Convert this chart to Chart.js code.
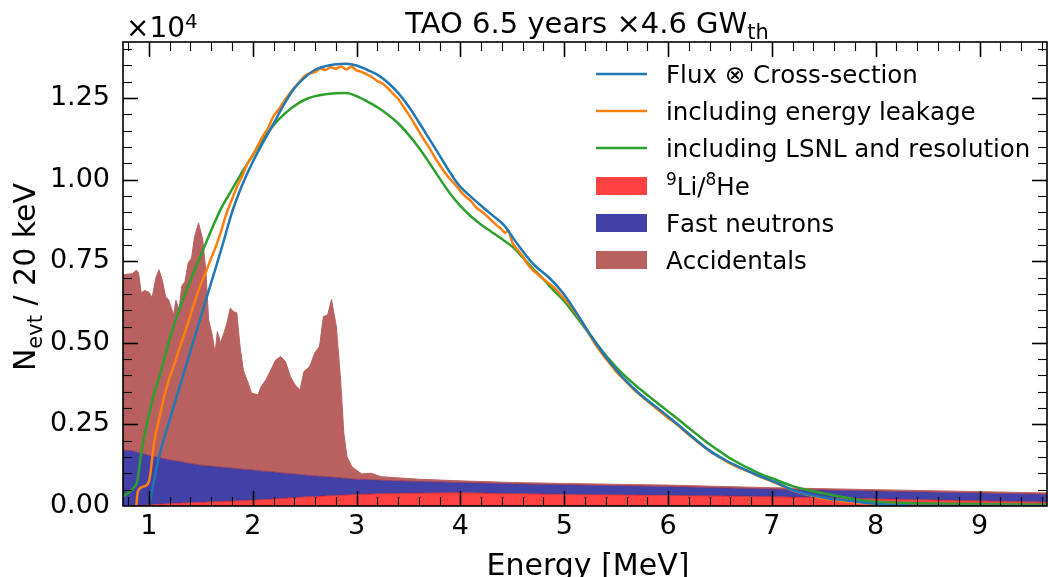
<!DOCTYPE html>
<html>
<head>
<meta charset="utf-8">
<script src="https://cdn.jsdelivr.net/npm/chart.js@4.4.1/dist/chart.umd.min.js"></script>
<style>
  html, body { margin: 0; padding: 0; background: #fff; }
  #wrap { width: 1048px; height: 577px; }
</style>
</head>
<body>
<div id="wrap"><canvas id="spectrum" width="1048" height="577"></canvas></div>
<script>
// TAO prompt spectrum, events per 20 keV bin

// Flux x cross-section
const fluxE = [1.00, 1.05, 1.10, 1.20, 1.30, 1.40, 1.50, 1.60, 1.70, 1.80, 1.90, 2.00, 2.10, 2.20, 2.30, 2.40,
  2.50, 2.60, 2.70, 2.80, 2.90, 3.00, 3.10, 3.20, 3.30, 3.40, 3.50, 3.60, 3.70, 3.80, 3.90, 3.95, 4.00, 4.10,
  4.20, 4.30, 4.43, 4.53, 4.70, 4.86, 4.99, 5.10, 5.25, 5.41, 5.57, 5.74, 5.90, 6.06, 6.23, 6.39, 6.55, 6.71,
  6.88, 7.04, 7.20, 7.37, 7.53, 7.69, 7.85, 8.00, 8.20, 8.40, 9.65];
const fluxN = [0, 800, 1550, 2650, 3700, 4750, 5800, 6850, 7900, 9000, 9850, 10550, 11150, 11720, 12300, 12800,
  13130, 13370, 13480, 13540, 13550, 13500, 13370, 13220, 12980, 12660, 12250, 11760, 11250, 10740, 10220, 9980, 9780, 9480,
  9200, 8930, 8570, 8110, 7420, 6980, 6520, 6010, 5250, 4530, 3920, 3400, 3000, 2590, 2130, 1720, 1410, 1160,
  920, 720, 490, 340, 240, 180, 120, 70, 30, 10, 0];

// including energy leakage
const leakE = [0.878, 0.893, 0.95, 1.00,
  1.05, 1.10, 1.15, 1.20, 1.25, 1.30, 1.35, 1.40, 1.45, 1.50, 1.55, 1.60, 1.65, 1.70, 1.75, 1.80, 1.85, 1.90, 1.95, 2.00,
  2.05, 2.10, 2.15, 2.20, 2.25, 2.30, 2.35, 2.40, 2.45, 2.50, 2.55, 2.60, 2.65, 2.70, 2.75, 2.80, 2.85, 2.90, 2.95, 3.00,
  3.05, 3.10, 3.15, 3.20, 3.25, 3.30, 3.35, 3.40, 3.45, 3.50, 3.55, 3.60, 3.65, 3.70, 3.75, 3.80, 3.85, 3.90, 3.95, 4.00,
  4.05, 4.10, 4.15, 4.20, 4.25, 4.30, 4.35, 4.40, 4.43, 4.46, 4.50, 4.55, 4.60, 4.65, 4.70,
  4.80, 4.90, 5.00, 5.10, 5.20, 5.30, 5.40, 5.50, 5.60, 5.70, 5.80, 5.90, 6.00, 6.10, 6.20, 6.30, 6.40, 6.50,
  6.60, 6.70, 6.80, 6.90, 7.00, 7.10, 7.20, 7.30, 7.40, 7.50, 7.60, 7.70, 7.80, 7.90, 8.00, 8.20, 8.40, 9.65];
const leakN = [0, 440, 600, 750,
  1950, 2700, 3400, 3950, 4400, 4900, 5350, 5850, 6350, 6800, 7180, 7600, 8000, 8480, 9000, 9400, 9800, 10120, 10500, 10750,
  11050, 11350, 11600, 11950, 12150, 12400, 12620, 12820, 13000, 13180, 13260, 13300, 13410, 13360, 13450, 13400, 13470, 13380, 13460, 13350,
  13300, 13220, 13140, 13020, 12950, 12810, 12640, 12480, 12240, 12010, 11750, 11480, 11220, 10980, 10700, 10450, 10220, 10020, 9850, 9650,
  9480, 9350, 9150, 9030, 8900, 8750, 8600, 8470, 8370, 8440, 8080, 7850, 7650, 7400, 7220,
  6950, 6700, 6350, 5970, 5480, 4950, 4520, 4120, 3800, 3480, 3220, 2960, 2700, 2460, 2180, 1920, 1680, 1480,
  1300, 1150, 1020, 880, 750, 620, 480, 380, 300, 230, 180, 140, 110, 80, 60, 30, 10, 0];

// including LSNL and resolution
const lsnlE = [0.75, 0.85, 0.89, 0.92, 0.95, 1.00, 1.05, 1.10,
  1.20, 1.30, 1.40, 1.50, 1.60, 1.70, 1.80, 1.90, 2.00, 2.10, 2.20, 2.30, 2.40, 2.50, 2.60, 2.70, 2.80, 2.90, 3.00, 3.10,
  3.20, 3.30, 3.40, 3.50, 3.60, 3.70, 3.80, 3.90, 4.00, 4.10, 4.20, 4.30, 4.40, 4.50, 4.60, 4.70, 4.80, 4.90, 5.00, 5.10,
  5.20, 5.30, 5.40, 5.50, 5.60, 5.70, 5.80, 5.90, 6.00, 6.10, 6.20, 6.30, 6.40, 6.50, 6.60, 6.70, 6.80, 6.90, 7.00,
  7.20, 7.40, 7.60, 7.80, 8.00, 8.50, 9.00, 9.65];
const lsnlN = [290, 550, 800, 1500, 2050, 2800, 3460, 3950,
  5120, 6100, 6920, 7680, 8450, 9150, 9700, 10250, 10750, 11250, 11670, 12000, 12260, 12450, 12560, 12620, 12650, 12660, 12560, 12400,
  12220, 12000, 11730, 11380, 10980, 10520, 10040, 9580, 9200, 8880, 8620, 8400, 8180, 7950, 7620, 7270, 6950, 6600, 6280, 5870,
  5450, 5030, 4620, 4260, 3940, 3660, 3400, 3150, 2900, 2650, 2390, 2140, 1890, 1670, 1460, 1280, 1120, 970, 850,
  610, 450, 320, 210, 130, 80, 60, 40];

// backgrounds (stacked), common energy grid
const bkgE = [0.75, 0.84, 0.878, 0.90, 0.925, 0.96, 1.00, 1.03, 1.066, 1.097,
  1.13, 1.16, 1.19, 1.237, 1.26, 1.29, 1.315, 1.347, 1.378, 1.41,
  1.44, 1.478, 1.518, 1.549, 1.575, 1.612, 1.637, 1.659, 1.69, 1.722,
  1.75, 1.784, 1.815, 1.846, 1.877, 1.909, 1.956, 1.987, 2.05, 2.08,
  2.127, 2.174, 2.221, 2.268, 2.315, 2.362, 2.408, 2.455, 2.493, 2.549,
  2.596, 2.643, 2.68, 2.721, 2.758, 2.805, 2.846, 2.877, 2.908, 2.955,
  3.05, 3.14, 3.236, 3.36, 3.6, 4.0, 4.5, 5.0, 6.0, 7.0,
  8.0, 9.0, 9.65];
const li9He8 = [0, 10, 15, 20, 25, 30, 40, 45, 55, 60,
  65, 70, 80, 85, 90, 90, 95, 100, 105, 110,
  110, 115, 120, 125, 130, 135, 135, 140, 145, 145,
  150, 155, 160, 160, 165, 170, 175, 180, 190, 195,
  205, 215, 225, 235, 245, 250, 260, 270, 280, 290,
  295, 305, 310, 315, 320, 330, 335, 340, 345, 355,
  365, 370, 380, 390, 400, 410, 380, 360, 330, 290,
  220, 160, 120];
const fastN = [1720, 1680, 1640, 1615, 1590, 1555, 1510, 1485, 1450, 1420,
  1395, 1370, 1335, 1310, 1295, 1280, 1260, 1230, 1210, 1190,
  1170, 1145, 1125, 1110, 1100, 1080, 1075, 1060, 1050, 1040,
  1025, 1010, 995, 985, 970, 955, 940, 925, 895, 880,
  855, 835, 810, 785, 760, 740, 720, 695, 670, 645,
  630, 610, 595, 580, 565, 540, 525, 510, 500, 475,
  450, 435, 410, 385, 350, 310, 300, 290, 270, 230,
  240, 240, 240];
const accid = [5370, 5430, 5570, 5520, 4920, 5020, 5000, 4850, 5480, 5760,
  5440, 4980, 4900, 4460, 4920, 4630, 5380, 5550, 6130, 6300,
  6980, 7410, 6920, 5920, 4480, 3980, 3470, 4150, 3800, 4120,
  4420, 4900, 4800, 4780, 3760, 3040, 2650, 2360, 2320, 2580,
  2810, 3120, 3440, 3560, 3420, 2980, 2730, 2600, 3170, 3340,
  3760, 3980, 4900, 4960, 5440, 4630, 3010, 1380, 660, 370,
  165, 200, 110, 95, 70, 50, 40, 40, 40, 40,
  40, 40, 40];

const yTicks = [0, 2500, 5000, 7500, 10000, 12500];

const pts = (xs, ys) => xs.map((x, i) => ({ x: x, y: ys[i] }));

const font = "'DejaVu Sans', sans-serif";

const line = (label, xs, ys, color, stack) => ({
  label: label,
  data: pts(xs, ys),
  borderColor: color,
  backgroundColor: color,
  borderWidth: 2.5,
  fill: false,
  stack: stack,
  order: 0,
  cubicInterpolationMode: "monotone",
});

const area = (label, ys, color, edge, fill) => ({
  label: label,
  data: pts(bkgE, ys),
  borderColor: edge,
  backgroundColor: color,
  borderWidth: 1,
  fill: fill,
  stack: "bkg",
  order: 1,
  tension: 0,
});

// inward ticks on all four sides + frame
const axisFrame = {
  id: "axisFrame",
  afterDatasetsDraw(chart) {
    const { ctx, chartArea: a, scales } = chart;
    const sx = scales.x;
    const sy = scales.y;
    ctx.save();
    ctx.strokeStyle = "#000";
    const seg = (x0, y0, x1, y1, w) => {
      ctx.lineWidth = w;
      ctx.beginPath();
      ctx.moveTo(x0, y0);
      ctx.lineTo(x1, y1);
      ctx.stroke();
    };
    for (let k = 4; k <= 48; k++) {
      const px = Math.round(sx.getPixelForValue(k * 0.2)) + 0.5;
      if (px < a.left || px > a.right) continue;
      const major = k % 5 === 0;
      const len = major ? 15 : 9;
      const w = major ? 1.6 : 1.1;
      seg(px, a.bottom, px, a.bottom - len, w);
      seg(px, a.top, px, a.top + len, w);
    }
    for (let k = 0; k <= 28; k++) {
      const py = Math.round(sy.getPixelForValue(k * 500)) + 0.5;
      if (py < a.top || py > a.bottom) continue;
      const major = k % 5 === 0;
      const len = major ? 15 : 9;
      const w = major ? 1.6 : 1.1;
      seg(a.left, py, a.left + len, py, w);
      seg(a.right, py, a.right - len, py, w);
    }
    ctx.lineWidth = 1.6;
    ctx.strokeRect(a.left, a.top, a.right - a.left, a.bottom - a.top);
    ctx.restore();
  },
};

// title, axis labels, offset text
const texts = {
  id: "texts",
  afterDraw(chart) {
    const { ctx, chartArea: a } = chart;
    const cx = (a.left + a.right) / 2;
    ctx.save();
    ctx.fillStyle = "#000";
    ctx.textBaseline = "alphabetic";
    ctx.textAlign = "left";

    // title with subscript
    const t1 = "TAO 6.5 years ×4.6 GW";
    const t2 = "th";
    ctx.font = "29px " + font;
    const w1 = ctx.measureText(t1).width;
    ctx.font = "21px " + font;
    const w2 = ctx.measureText(t2).width;
    const tx = cx + 2 - (w1 + w2) / 2;
    ctx.font = "29px " + font;
    ctx.fillText(t1, tx, 33);
    ctx.font = "21px " + font;
    ctx.fillText(t2, tx + w1, 39);

    // x10^4
    ctx.font = "28px " + font;
    ctx.fillText("×10", a.left + 3, 37);
    const wm = ctx.measureText("×10").width;
    ctx.font = "20px " + font;
    ctx.fillText("4", a.left + 3 + wm, 28);

    // x label
    ctx.font = "30px " + font;
    ctx.textAlign = "center";
    ctx.fillText("Energy [MeV]", cx + 3, 575);

    // y label, rotated, with subscript
    ctx.translate(35, (a.top + a.bottom) / 2 + 3);
    ctx.rotate(-Math.PI / 2);
    ctx.textAlign = "left";
    const p1 = "N", p2 = "evt", p3 = " / 20 keV";
    ctx.font = "30px " + font;
    const q1 = ctx.measureText(p1).width;
    const q3 = ctx.measureText(p3).width;
    ctx.font = "21px " + font;
    const q2 = ctx.measureText(p2).width;
    const lx = -(q1 + q2 + q3) / 2;
    ctx.font = "30px " + font;
    ctx.fillText(p1, lx, 0);
    ctx.font = "21px " + font;
    ctx.fillText(p2, lx + q1, 7);
    ctx.font = "30px " + font;
    ctx.fillText(p3, lx + q1 + q2, 0);
    ctx.restore();
  },
};

// legend in the upper right, matplotlib style; superscript digits drawn raised
const supDigits = { "⁰": "0", "¹": "1", "²": "2", "³": "3", "⁴": "4", "⁵": "5", "⁶": "6", "⁷": "7", "⁸": "8", "⁹": "9" };

const legendBox = {
  id: "legendBox",
  afterDraw(chart) {
    const ctx = chart.ctx;
    const rows = [74, 111, 148, 186, 223, 260];
    ctx.save();
    ctx.textBaseline = "alphabetic";
    ctx.textAlign = "left";
    chart.data.datasets.forEach((ds, i) => {
      const y = rows[i];
      if (ds.fill === false) {
        ctx.strokeStyle = ds.borderColor;
        ctx.lineWidth = 2.5;
        ctx.beginPath();
        ctx.moveTo(596, y);
        ctx.lineTo(647, y);
        ctx.stroke();
      } else {
        ctx.fillStyle = ds.backgroundColor;
        ctx.fillRect(596, y - 9, 51, 18);
      }
      ctx.fillStyle = "#000";
      let lx = 666;
      const base = y + 9;
      for (const ch of ds.label) {
        if (supDigits[ch]) {
          ctx.font = "17px " + font;
          ctx.fillText(supDigits[ch], lx, base - 10);
          lx += ctx.measureText(supDigits[ch]).width;
        } else {
          ctx.font = "24.5px " + font;
          ctx.fillText(ch, lx, base);
          lx += ctx.measureText(ch).width;
        }
      }
    });
    ctx.restore();
  },
};

new Chart(document.getElementById("spectrum"), {
  type: "line",
  data: {
    datasets: [
      line("Flux ⊗ Cross-section", fluxE, fluxN, "#1f77b4", "flux"),
      line("including energy leakage", leakE, leakN, "#ff7f0e", "leak"),
      line("including LSNL and resolution", lsnlE, lsnlN, "#2ca02c", "lsnl"),
      area("⁹Li/⁸He", li9He8, "#ff4141", "rgba(140,30,70,0.7)", "origin"),
      area("Fast neutrons", fastN, "#4141a8", "rgba(140,40,80,0.7)", "-1"),
      area("Accidentals", accid, "#b96060", "#b96060", "-1"),
    ],
  },
  options: {
    responsive: false,
    animation: false,
    layout: { padding: { top: 42, right: 1, left: 0, bottom: 0 } },
    elements: { point: { radius: 0 } },
    plugins: {
      legend: { display: false },
      title: { display: false },
      tooltip: { enabled: false },
    },
    scales: {
      x: {
        type: "linear",
        min: 0.75,
        max: 9.65,
        grid: { display: false, drawTicks: false },
        border: { display: false },
        ticks: {
          stepSize: 1,
          includeBounds: false,
          autoSkip: false,
          maxRotation: 0,
          padding: 5,
          color: "#000",
          font: { family: font, size: 27 },
        },
        afterFit: (s) => {
          s.height = 71;
        },
      },
      y: {
        type: "linear",
        stacked: true,
        min: 0,
        max: 14220,
        grid: { display: false, drawTicks: false },
        border: { display: false },
        afterBuildTicks: (s) => {
          s.ticks = yTicks.map((v) => ({ value: v }));
        },
        ticks: {
          padding: 13,
          color: "#000",
          font: { family: font, size: 27 },
          callback: (v) => (v / 1e4).toFixed(2),
        },
        afterFit: (s) => {
          s.width = 123;
        },
      },
    },
  },
  plugins: [axisFrame, texts, legendBox],
});
</script>
</body>
</html>
